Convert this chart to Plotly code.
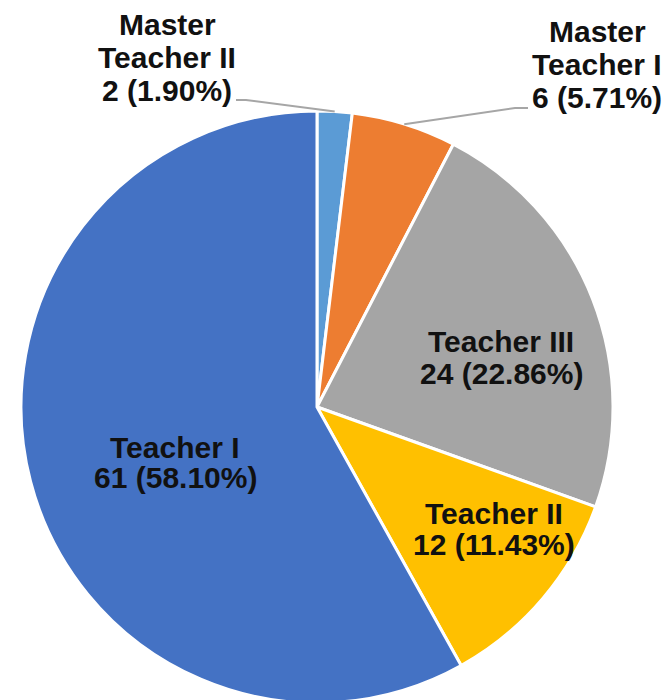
import math
import plotly.graph_objects as go

labels = ["Master Teacher II", "Master Teacher I", "Teacher III", "Teacher II", "Teacher I"]
label_lines = [["Master", "Teacher II"], ["Master", "Teacher I"], ["Teacher III"], ["Teacher II"], ["Teacher I"]]
values = [2, 6, 24, 12, 61]
colors = ["#5B9BD5", "#ED7D31", "#A5A5A5", "#FFC000", "#4472C4"]
outside = [True, True, False, False, False]

W, H = 670, 700
OFF = 8  # page body margin offset of the rendered figure
CX, CY, R = 317 - OFF, 407 - OFF, 296  # pixel geometry of the pie (figure coords)

total = sum(values)

font = dict(family="Arial, Liberation Sans, sans-serif", size=30, color="#111111", weight="bold")

fig = go.Figure(go.Pie(
    labels=labels,
    values=values,
    textinfo="none",
    sort=False,
    direction="clockwise",
    rotation=0,
    marker=dict(colors=colors, line=dict(color="white", width=3)),
    showlegend=False,
    hoverinfo="label+value+percent",
    domain=dict(x=[(CX - R) / W, (CX + R) / W], y=[1 - (CY + R) / H, 1 - (CY - R) / H]),
))

# label block layout (reference pixels): center x, center y of the first line, line gap
label_pos = {
    0: (167, 23, 33),
    1: (597, 30, 33),
    2: (501, 340, 31),
    3: (494, 511, 31),
    4: (175, 445, 31),
}
# leader lines for the outside labels (reference pixels): start point, bend x
leader = {
    0: dict(lx=236, ly=100, hx=246),
    1: dict(lx=528, ly=108, hx=515),
}

def px(x):
    return (x - OFF) / W

def py(y):
    return 1 - (y - OFF) / H

annotations = []
shapes = []
cum = 0
for i, v in enumerate(values):
    mid = (cum + v / 2) / total * 2 * math.pi
    cum += v
    lines = label_lines[i] + [f"{v} ({v / total * 100:.2f}%)"]
    x0, y0, gap = label_pos[i]
    for k, line in enumerate(lines):
        annotations.append(dict(
            x=px(x0), y=py(y0 + k * gap + 2), xref="paper", yref="paper",
            xanchor="center", yanchor="middle", showarrow=False,
            text=line, font=font,
        ))
    if outside[i]:
        L = leader[i]
        ex = CX + R * math.sin(mid)
        ey = CY - R * math.cos(mid)
        path = (f"M {px(L['lx'])} {py(L['ly'])} L {px(L['hx'])} {py(L['ly'])} "
                f"L {ex / W} {1 - ey / H}")
        shapes.append(dict(type="path", xref="paper", yref="paper", path=path,
                           line=dict(color="#A6A6A6", width=2)))

fig.update_layout(
    width=W, height=H,
    margin=dict(l=0, r=0, t=0, b=0),
    paper_bgcolor="white",
    plot_bgcolor="white",
    annotations=annotations,
    shapes=shapes,
)

fig.write_html("out.html")
